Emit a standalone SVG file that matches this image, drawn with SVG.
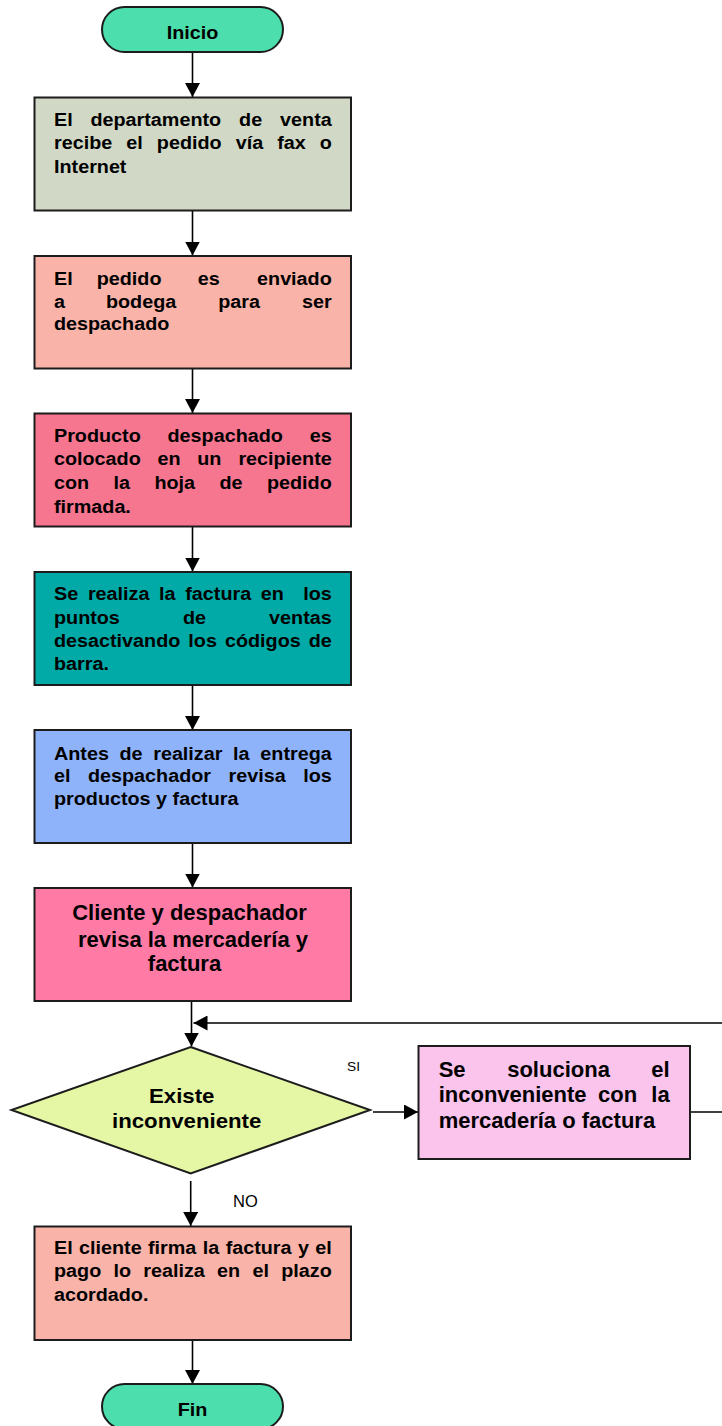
<svg xmlns="http://www.w3.org/2000/svg" width="722" height="1426" viewBox="0 0 722 1426">
<style>
.box{stroke:#1c1c1c;stroke-width:2}
.t{font-family:"Liberation Sans",Arial,sans-serif;font-weight:bold;font-size:17.5px;fill:#000}
.big{font-family:"Liberation Sans",Arial,sans-serif;font-weight:bold;font-size:22px;fill:#000}
.lbl{font-family:"Liberation Sans",Arial,sans-serif;fill:#000}
.e{text-anchor:end}
.m{text-anchor:middle}
.c{fill:none;stroke:#000;stroke-width:1.6}
</style>
<defs>
<marker id="ah" markerUnits="userSpaceOnUse" markerWidth="15" markerHeight="15" refX="14" refY="7.5" orient="auto">
<path d="M0,0 L14,7.5 L0,15 z" fill="#000"/>
</marker>
</defs>
<rect width="722" height="1426" fill="#fff"/>

<g id="connectors">
<line class="c" x1="192.5" y1="52" x2="192.5" y2="97" marker-end="url(#ah)"/>
<line class="c" x1="192.5" y1="210.5" x2="192.5" y2="255.5" marker-end="url(#ah)"/>
<line class="c" x1="192.5" y1="368.5" x2="192.5" y2="413" marker-end="url(#ah)"/>
<line class="c" x1="192.5" y1="526.5" x2="192.5" y2="571.5" marker-end="url(#ah)"/>
<line class="c" x1="192.5" y1="685" x2="192.5" y2="730" marker-end="url(#ah)"/>
<line class="c" x1="192.5" y1="843" x2="192.5" y2="887.5" marker-end="url(#ah)"/>
<line class="c" x1="191.5" y1="1001" x2="191.5" y2="1046.5" marker-end="url(#ah)"/>
<path class="c" d="M690,1112 H740 V1023 H193.5" marker-end="url(#ah)"/>
<line class="c" x1="373" y1="1112" x2="418" y2="1112" marker-end="url(#ah)"/>
<line class="c" x1="190.7" y1="1181" x2="190.7" y2="1226" marker-end="url(#ah)"/>
<line class="c" x1="192.5" y1="1340" x2="192.5" y2="1384" marker-end="url(#ah)"/>
<text class="lbl" font-size="12.5" transform="translate(347 0) scale(1.1 1)" y="1071">SI</text>
<text class="lbl" font-size="16.5" x="233" y="1206.7">NO</text>
</g>

<g id="inicio">
<rect class="box" x="102" y="7" width="181" height="45" rx="22.5" fill="#4CDFAD"/>
<text class="t m" transform="translate(192.5 0) scale(1.13 1)" x="0" y="39">Inicio</text>
</g>

<g id="n1">
<rect class="box" x="34.5" y="97.5" width="316.5" height="113" fill="#D1D9C6"/>
<text class="t" transform="translate(54 0) scale(1.13 1)" y="126"><tspan x="0">El</tspan><tspan x="32.3">departamento</tspan><tspan x="163.8">de</tspan><tspan x="245.8" class="e">venta</tspan></text>
<text class="t" transform="translate(54 0) scale(1.13 1)" y="149.3"><tspan x="0">recibe</tspan><tspan x="64">el</tspan><tspan x="91">pedido</tspan><tspan x="160.8">vía</tspan><tspan x="197.5">fax</tspan><tspan x="245.8" class="e">o</tspan></text>
<text class="t" transform="translate(54 0) scale(1.13 1)" y="172.7" x="0">Internet</text>
</g>

<g id="n2">
<rect class="box" x="34.5" y="256" width="316.5" height="112.5" fill="#F9B3A8"/>
<text class="t" transform="translate(54 0) scale(1.13 1)" y="285"><tspan x="0">El</tspan><tspan x="37.8">pedido</tspan><tspan x="127.2">es</tspan><tspan x="245.8" class="e">enviado</tspan></text>
<text class="t" transform="translate(54 0) scale(1.13 1)" y="307.7"><tspan x="0">a</tspan><tspan x="46">bodega</tspan><tspan x="145.4">para</tspan><tspan x="245.8" class="e">ser</tspan></text>
<text class="t" transform="translate(54 0) scale(1.13 1)" y="330.5" x="0">despachado</text>
</g>

<g id="n3">
<rect class="box" x="34.5" y="413.5" width="316.5" height="113" fill="#F6768F"/>
<text class="t" transform="translate(54 0) scale(1.13 1)" y="441.7"><tspan x="0">Producto</tspan><tspan x="100.5">despachado</tspan><tspan x="245.8" class="e">es</tspan></text>
<text class="t" transform="translate(54 0) scale(1.13 1)" y="465.5"><tspan x="0">colocado</tspan><tspan x="91.6">en</tspan><tspan x="126.8">un</tspan><tspan x="245.8" class="e">recipiente</tspan></text>
<text class="t" transform="translate(54 0) scale(1.13 1)" y="489"><tspan x="0">con</tspan><tspan x="52.7">la</tspan><tspan x="88.9">hoja</tspan><tspan x="146.5">de</tspan><tspan x="245.8" class="e">pedido</tspan></text>
<text class="t" transform="translate(54 0) scale(1.13 1)" y="513" x="0">firmada.</text>
</g>

<g id="n4">
<rect class="box" x="34.5" y="572" width="316.5" height="113" fill="#01AAA7"/>
<text class="t" transform="translate(54 0) scale(1.13 1)" y="600.5"><tspan x="0">Se</tspan><tspan x="30">realiza</tspan><tspan x="93">la</tspan><tspan x="116.2">factura</tspan><tspan x="183">en</tspan><tspan x="245.8" class="e">los</tspan></text>
<text class="t" transform="translate(54 0) scale(1.13 1)" y="624"><tspan x="0">puntos</tspan><tspan x="114.2">de</tspan><tspan x="245.8" class="e">ventas</tspan></text>
<text class="t" transform="translate(54 0) scale(1.13 1)" y="647.3"><tspan x="0">desactivando</tspan><tspan x="118.9">los</tspan><tspan x="151.3">códigos</tspan><tspan x="245.8" class="e">de</tspan></text>
<text class="t" transform="translate(54 0) scale(1.13 1)" y="670.5" x="0">barra.</text>
</g>

<g id="n5">
<rect class="box" x="34.5" y="730" width="316.5" height="113" fill="#8FB3FB"/>
<text class="t" transform="translate(54 0) scale(1.13 1)" y="760"><tspan x="0">Antes</tspan><tspan x="58">de</tspan><tspan x="87.8">realizar</tspan><tspan x="158.5">la</tspan><tspan x="245.8" class="e">entrega</tspan></text>
<text class="t" transform="translate(54 0) scale(1.13 1)" y="782.5"><tspan x="0">el</tspan><tspan x="30.1">despachador</tspan><tspan x="154.5">revisa</tspan><tspan x="245.8" class="e">los</tspan></text>
<text class="t" transform="translate(54 0) scale(1.13 1)" y="805.5" x="0">productos y factura</text>
</g>

<g id="n6">
<rect class="box" x="34.5" y="888" width="316.5" height="113" fill="#FF7BA6"/>
<text class="big m" x="189.5" y="920">Cliente y despachador</text>
<text class="big m" x="193" y="946.5">revisa la mercadería y</text>
<text class="big m" x="184.5" y="971">factura</text>
</g>

<g id="decision">
<polygon class="box" points="190.7,1047 370,1110 190.7,1173.5 11.5,1110" fill="#E5F7A4"/>
<text class="t m" transform="translate(181.7 0) scale(1.14 1)" x="0" y="1103.3" style="font-size:19.5px">Existe</text>
<text class="t m" transform="translate(186.7 0) scale(1.14 1)" x="0" y="1128.3" style="font-size:19.5px">inconveniente</text>
</g>

<g id="n7">
<rect class="box" x="418.5" y="1046" width="271.5" height="113" fill="#FAC4EC"/>
<text class="big" y="1076.7"><tspan x="438.7">Se</tspan><tspan x="507.2">soluciona</tspan><tspan x="669.7" class="e">el</tspan></text>
<text class="big" y="1102"><tspan x="438.7">inconveniente</tspan><tspan x="598">con</tspan><tspan x="669.7" class="e">la</tspan></text>
<text class="big" x="438.7" y="1127.7">mercadería o factura</text>
</g>

<g id="n8">
<rect class="box" x="34.5" y="1226.5" width="316.5" height="113.5" fill="#F9B3A8"/>
<text class="t" transform="translate(54 0) scale(1.13 1)" y="1254"><tspan x="0">El</tspan><tspan x="22.2">cliente</tspan><tspan x="83.2">firma</tspan><tspan x="131.7">la</tspan><tspan x="151.9">factura</tspan><tspan x="215.9">y</tspan><tspan x="245.8" class="e">el</tspan></text>
<text class="t" transform="translate(54 0) scale(1.13 1)" y="1277.3"><tspan x="0">pago</tspan><tspan x="52.6">lo</tspan><tspan x="79">realiza</tspan><tspan x="144.3">en</tspan><tspan x="175.6">el</tspan><tspan x="245.8" class="e">plazo</tspan></text>
<text class="t" transform="translate(54 0) scale(1.13 1)" y="1300.7" x="0">acordado.</text>
</g>

<g id="fin">
<rect class="box" x="102" y="1384" width="181" height="45" rx="22.5" fill="#4CDFAD"/>
<text class="t m" transform="translate(192.5 0) scale(1.13 1)" x="0" y="1416.5">Fin</text>
</g>
</svg>
